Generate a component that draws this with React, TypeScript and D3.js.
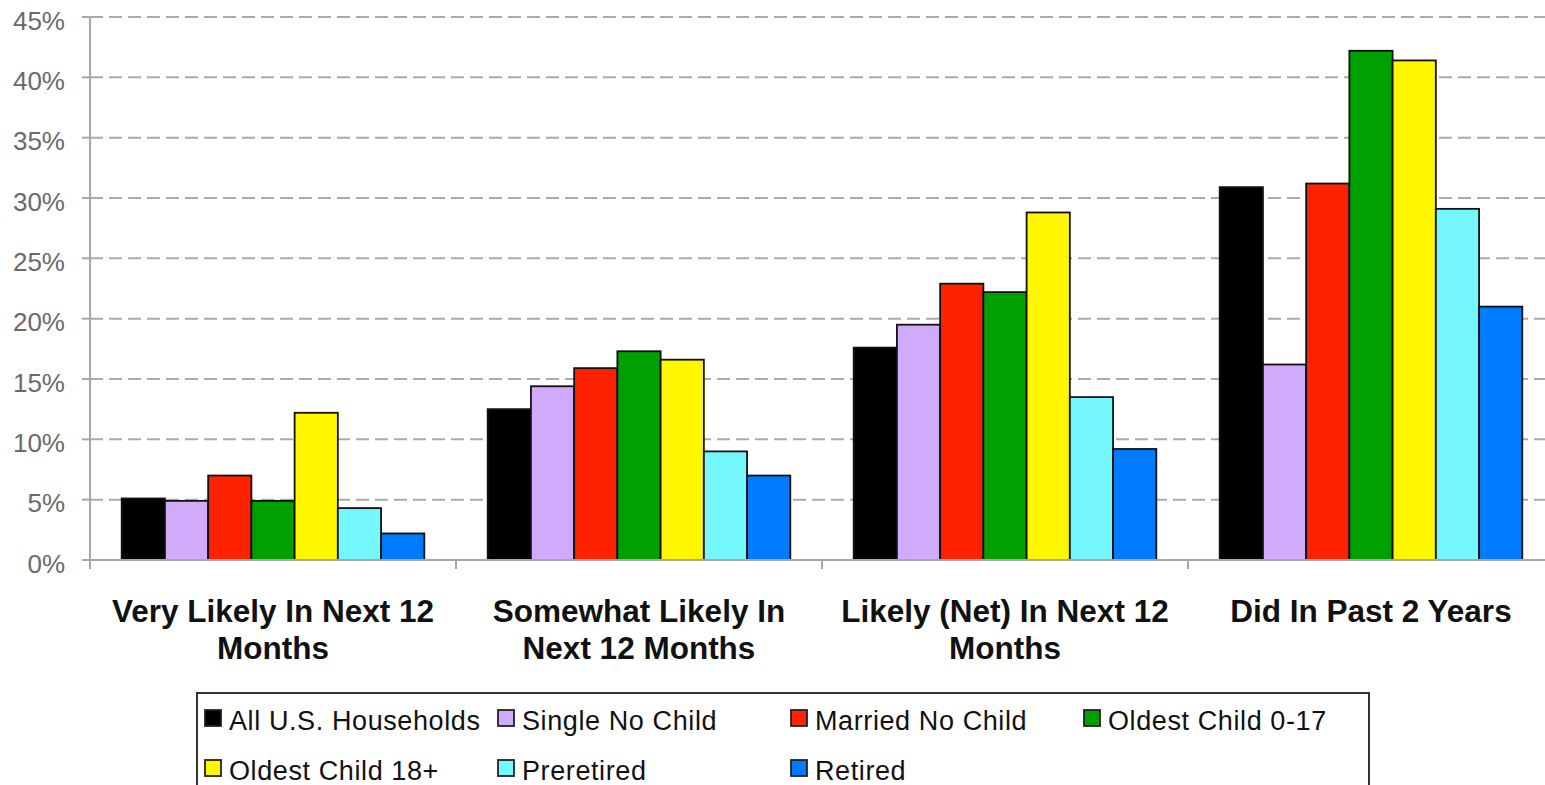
import React from "react";
import * as d3 from "d3";

// Survey categories (x groups)
const categories: string[][] = [
  ["Very Likely In Next 12", "Months"],
  ["Somewhat Likely In", "Next 12 Months"],
  ["Likely (Net) In Next 12", "Months"],
  ["Did In Past 2 Years"],
];

// Household segments (series)
const seriesNames = [
  "All U.S. Households",
  "Single No Child",
  "Married No Child",
  "Oldest Child 0-17",
  "Oldest Child 18+",
  "Preretired",
  "Retired",
];
const seriesColors = ["#000000", "#d0aafb", "#ff2200", "#00a000", "#fff700", "#74f8fe", "#007bff"];

// Percent values per series, one entry per category
const allHouseholds = [5.1, 12.5, 17.6, 30.9];
const singleNoChild = [4.9, 14.4, 19.5, 16.2];
const marriedNoChild = [7.0, 15.9, 22.9, 31.2];
const oldestChild017 = [4.9, 17.3, 22.2, 42.2];
const oldestChild18 = [12.2, 16.6, 28.8, 41.4];
const preretired = [4.3, 9.0, 13.5, 29.1];
const retired = [2.2, 7.0, 9.2, 21.0];
const seriesValues = [allHouseholds, singleNoChild, marriedNoChild, oldestChild017, oldestChild18, preretired, retired];

const yTicks = [0, 5, 10, 15, 20, 25, 30, 35, 40, 45];

const FONT = "'Liberation Sans', Arial, Helvetica, sans-serif";

export default function App() {
  const W = 1545;
  const H = 785;
  const left = 90;
  const top = 17;
  const bottom = 560;
  const groupW = 366;

  const y = d3.scaleLinear().domain([0, 45]).range([bottom, top]);
  const x0 = d3
    .scaleBand<number>()
    .domain(categories.map((_, i) => i))
    .range([left, left + groupW * categories.length])
    .padding(0);
  const bw = x0.bandwidth();
  const inset = bw * 0.0866;
  const x1 = d3
    .scaleBand<number>()
    .domain(seriesNames.map((_, i) => i))
    .range([inset, bw - inset])
    .padding(0);

  const legendCols = 4;
  const legendColW = 293;
  const legendX = 205;
  const legendRowY = [730, 780];

  return (
    <svg
      width={W}
      height={H}
      style={{ position: "absolute", left: 0, top: 0, background: "#fff" }}
      fontFamily={FONT}
    >
      {/* gridlines */}
      {yTicks
        .filter((t) => t > 0)
        .map((t) => (
          <line
            key={"g" + t}
            x1={left}
            x2={W}
            y1={y(t)}
            y2={y(t)}
            stroke="#ababab"
            strokeWidth={2}
            strokeDasharray="13 6"
          />
        ))}

      {/* y axis */}
      <line x1={left} x2={left} y1={top} y2={bottom + 8} stroke="#a8a8a8" strokeWidth={2} />
      {yTicks.map((t) => (
        <g key={"t" + t}>
          <line x1={left - 8} x2={left} y1={y(t)} y2={y(t)} stroke="#a8a8a8" strokeWidth={2} />
          <text x={65} y={y(t) + 12.5} textAnchor="end" fontSize={26} fill="#6a6a6a">
            {t + "%"}
          </text>
        </g>
      ))}

      {/* bars */}
      {categories.map((_, ci) => (
        <g key={"c" + ci} transform={`translate(${x0(ci)},0)`}>
          {seriesValues.map((vals, si) => (
            <rect
              key={si}
              x={x1(si)}
              y={y(vals[ci])}
              width={x1.bandwidth()}
              height={y(0) - y(vals[ci])}
              fill={seriesColors[si]}
              stroke="#111"
              strokeWidth={1.8}
            />
          ))}
        </g>
      ))}

      {/* x axis */}
      <line x1={left - 8} x2={W} y1={bottom} y2={bottom} stroke="#a8a8a8" strokeWidth={2} />
      {categories.map((_, ci) => (
        <line
          key={"xt" + ci}
          x1={x0(ci)}
          x2={x0(ci)}
          y1={bottom}
          y2={bottom + 9}
          stroke="#a8a8a8"
          strokeWidth={2}
        />
      ))}

      {/* category labels */}
      {categories.map((lines, ci) => (
        <text
          key={"cl" + ci}
          x={(x0(ci) as number) + bw / 2}
          textAnchor="middle"
          fontSize={31.5}
          fontWeight="bold"
          fill="#111"
        >
          {lines.map((ln, li) => (
            <tspan key={li} x={(x0(ci) as number) + bw / 2} y={621.5 + li * 37}>
              {ln}
            </tspan>
          ))}
        </text>
      ))}

      {/* legend */}
      <rect x={197} y={693} width={1172} height={110} fill="#fff" stroke="#333" strokeWidth={2} />
      {seriesNames.map((name, si) => {
        const col = si % legendCols;
        const row = Math.floor(si / legendCols);
        const lx = legendX + col * legendColW;
        const ly = legendRowY[row];
        return (
          <g key={"l" + si}>
            <rect x={lx} y={ly - 20} width={16} height={16} fill={seriesColors[si]} stroke="#222" strokeWidth={1.8} />
            <text x={lx + 24} y={ly} fontSize={27} letterSpacing={0.6} fill="#111">
              {name}
            </text>
          </g>
        );
      })}
    </svg>
  );
}
